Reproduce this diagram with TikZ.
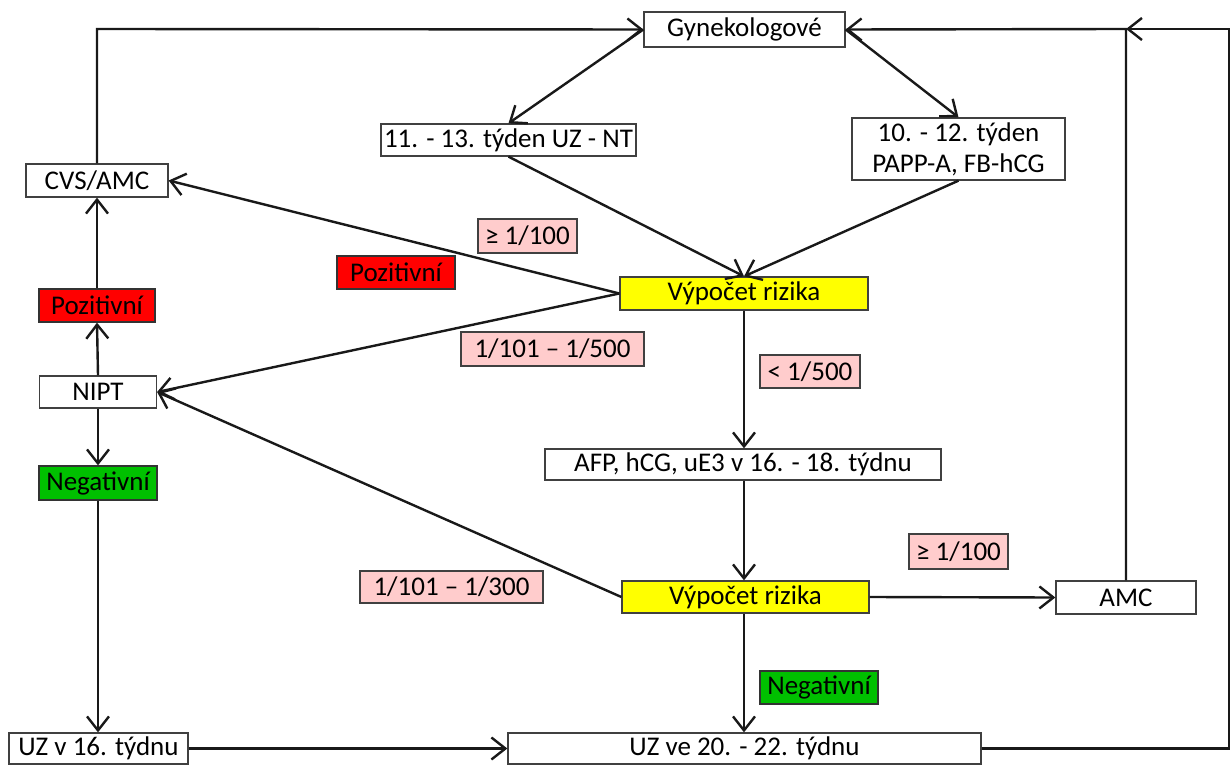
\documentclass[tikz,border=0pt]{standalone}
\usepackage{fontspec}
\setmainfont{Carlito}
\usetikzlibrary{arrows.meta}
\definecolor{pinkl}{HTML}{FFCCCC}
\definecolor{redl}{HTML}{FF0000}
\definecolor{greenl}{HTML}{00C000}
\definecolor{yell}{HTML}{FFFF00}
\definecolor{bord}{HTML}{404040}
\tikzset{
  bx/.style={draw=bord, line width=1.3pt, fill=white, inner sep=0pt, align=center,
    font=\fontsize{27}{31}\selectfont},
  pinkbox/.style={bx, fill=pinkl},
  redbox/.style={bx, fill=redl, draw=black!80},
  greenbox/.style={bx, fill=greenl, draw=black!80},
  yelbox/.style={bx, fill=yell},
  conn/.style={line width=2.4pt, black!90},
  arr/.style={conn, -{Straight Barb[length=14pt,width=22pt,line width=2.4pt]}},
}
\newcommand{\bxn}[6]{\node[#1, minimum width=#4pt, minimum height=#5pt] (#2) at (#3) {#6};}
\begin{document}
\begin{tikzpicture}[x=1pt,y=-1pt]
\useasboundingbox (0,0) rectangle (1230,767);
\bxn{bx}{gyn}{744.5,29.5}{201}{35}{Gynekologové}
\bxn{bx}{tA}{508.5,140}{255}{32}{11. - 13. týden UZ - NT}
\bxn{bx}{tB}{958.5,149}{213}{62}{10. - 12. týden\\PAPP-A, FB-hCG}
\bxn{bx}{cvs}{97,180.5}{142}{33}{CVS/AMC}
\bxn{pinkbox}{geA}{527.5,236}{99}{34}{≥ 1/100}
\bxn{redbox}{pozA}{396,272.5}{118}{33}{Pozitivní}
\bxn{redbox}{pozL}{97,305.5}{116}{33}{Pozitivní}
\bxn{yelbox}{vrA}{744,293.5}{248}{33}{Výpočet rizika}
\bxn{pinkbox}{rA}{552.5,349}{183}{34}{1/101 – 1/500}
\bxn{pinkbox}{ltA}{810,371.5}{100}{33}{< 1/500}
\bxn{bx}{nipt}{98,392}{117}{32}{NIPT}
\bxn{bx}{afp}{743,464.5}{396}{31}{AFP, hCG, uE3 v 16. - 18. týdnu}
\bxn{greenbox}{negL}{98,483}{118}{34}{Negativní}
\bxn{pinkbox}{geB}{958.5,551.5}{99}{35}{≥ 1/100}
\bxn{pinkbox}{rB}{451.5,587}{183}{32}{1/101 – 1/300}
\bxn{yelbox}{vrB}{745.5,597}{247}{32}{Výpočet rizika}
\bxn{bx}{amc}{1126,597.5}{140}{33}{AMC}
\bxn{greenbox}{negB}{819,687.5}{118}{33}{Negativní}
\bxn{bx}{uzA}{98.5,748.5}{179}{31}{UZ v 16. týdnu}
\bxn{bx}{uzB}{744.5,748.5}{473}{31}{UZ ve 20. - 22. týdnu}
\coordinate (tl) at (97,29);
\coordinate (tj) at (1126,29);
\coordinate (tr) at (1229,29);
\coordinate (br) at (1229,748.5);
% connectors
\draw[arr] (cvs.north) -- (tl) -- (gyn.west);
\draw[arr] (gyn.west) -- (tA.north);
\draw[arr] (gyn.east) -- (tB.north);
\draw[arr] (tA.south) -- (vrA.north);
\draw[arr] (tB.south) -- (vrA.north);
\draw[arr] (vrA.west) -- (cvs.east);
\draw[arr] (vrA.west) -- (nipt.east);
\draw[arr] (vrB.west) -- (nipt.east);
\draw[arr] (vrA.south) -- (afp.north -| vrA.south);
\draw[arr] (afp.south -| vrA.south) -- (vrA.south |- vrB.north);
\draw[arr] (vrA.south |- vrB.south) -- (vrA.south |- uzB.north);
\draw[arr] (vrB.east) -- (amc.west);
\draw[arr] (amc.north) -- (tj) -- (gyn.east);
\draw[arr] (uzB.east) -- (br) -- (tr) -- (tj);
\draw[arr] (nipt.north) -- (pozL.south);
\draw[arr] (pozL.north) -- (cvs.south);
\draw[arr] (nipt.south) -- (negL.north);
\draw[arr] (negL.south) -- (uzA.north -| negL.south);
\draw[arr] (uzA.east) -- (uzB.west);
\end{tikzpicture}
\end{document}
